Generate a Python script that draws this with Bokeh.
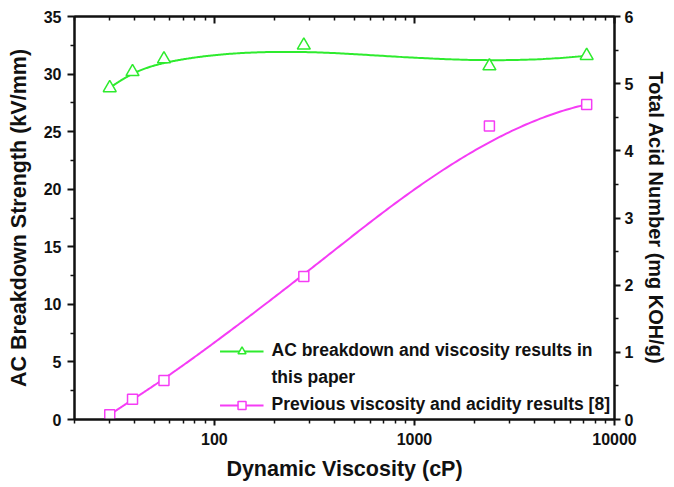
import numpy as np
from bokeh.plotting import figure
from bokeh.models import (LinearAxis, LogAxis, Range1d, FixedTicker,
                          NumeralTickFormatter, Legend, LegendItem)
from bokeh.embed import file_html
from bokeh.resources import INLINE

# ---- data ----
viscosity = [30, 39, 56, 280, 2370, 7260]            # cP
breakdown = [28.8, 30.2, 31.3, 32.5, 30.7, 31.6]     # kV/mm (left axis)
acid_number = [0.07, 0.30, 0.58, 2.13, 4.37, 4.69]   # mg KOH/g (right axis)

x_major = [100, 1000, 10000]
x_minor = [20, 30, 40, 50, 60, 70, 80, 90,
           200, 300, 400, 500, 600, 700, 800, 900,
           2000, 3000, 4000, 5000, 6000, 7000, 8000, 9000]
y_left_major = [0, 5, 10, 15, 20, 25, 30, 35]
y_left_minor = [2.5, 7.5, 12.5, 17.5, 22.5, 27.5, 32.5]
y_right_major = [0, 1, 2, 3, 4, 5, 6]
y_right_minor = [0.5, 1.5, 2.5, 3.5, 4.5, 5.5]

GREEN = "#2EEB2E"
MAGENTA = "#F53CF5"
FONT = "Liberation Sans"


def bspline(xs, ys, n=300, k=3):
    """Clamped cubic B-spline through control points (log-x space), as Origin draws."""
    P = np.column_stack([np.log10(xs), ys]).astype(float)
    m = len(P)
    inner = np.linspace(0, 1, m - k + 1)[1:-1]
    knots = np.concatenate([np.zeros(k + 1), inner, np.ones(k + 1)])
    ts = np.linspace(0, 1, n)
    out = []
    for t in ts:
        N = np.zeros(len(knots) - 1)
        for i in range(len(knots) - 1):
            if knots[i] <= t < knots[i + 1]:
                N[i] = 1.0
        if t >= 1.0:
            N[m - 1] = 1.0
        for d in range(1, k + 1):
            Nn = np.zeros(len(knots) - 1 - d)
            for i in range(len(Nn)):
                a = 0.0
                if knots[i + d] != knots[i]:
                    a = (t - knots[i]) / (knots[i + d] - knots[i]) * N[i]
                b = 0.0
                if knots[i + d + 1] != knots[i + 1]:
                    b = (knots[i + d + 1] - t) / (knots[i + d + 1] - knots[i + 1]) * N[i + 1]
                Nn[i] = a + b
            N = Nn
        out.append(N[:m] @ P)
    out = np.array(out)
    return 10 ** out[:, 0], out[:, 1]


gx, gy = bspline(viscosity, breakdown)
mx, my = bspline(viscosity, acid_number)

p = figure(width=670, height=483, x_axis_type="log",
           x_range=Range1d(20, 10000), y_range=Range1d(0, 35),
           output_backend="svg", toolbar_location=None,
           min_border_left=74, min_border_right=53,
           min_border_top=16, min_border_bottom=64)
p.extra_y_ranges = {"tan": Range1d(0, 6)}
p.xgrid.visible = False
p.ygrid.visible = False
p.outline_line_color = "#111111"
p.outline_line_width = 2
p.background_fill_color = "white"
p.border_fill_color = "white"


def style_axis(ax, label_size="16px"):
    ax.axis_line_color = "#111111"
    ax.axis_line_width = 2
    ax.major_tick_line_color = "#111111"
    ax.minor_tick_line_color = "#111111"
    ax.major_tick_line_width = 2
    ax.minor_tick_line_width = 1.5
    ax.major_tick_out = 7
    ax.major_tick_in = 0
    ax.minor_tick_out = 4
    ax.minor_tick_in = 0
    ax.major_label_text_font = FONT
    ax.major_label_text_font_style = "bold"
    ax.major_label_text_font_size = label_size
    ax.major_label_text_color = "#111111"
    ax.axis_label_text_font = FONT
    ax.axis_label_text_font_style = "bold"
    ax.axis_label_text_font_size = "21px"
    ax.axis_label_text_color = "#111111"


# bottom axis
xa = p.xaxis[0]
xa.ticker = FixedTicker(ticks=x_major, minor_ticks=x_minor)
xa.formatter = NumeralTickFormatter(format="0")
xa.axis_label = "Dynamic Viscosity (cP)"
style_axis(xa)
xa.axis_label_text_font_size = "21.5px"
xa.major_tick_out = 6
xa.major_label_standoff = 7
xa.axis_label_standoff = 9

# left axis
ya = p.yaxis[0]
ya.ticker = FixedTicker(ticks=y_left_major, minor_ticks=y_left_minor)
ya.axis_label = "AC Breakdown Strength (kV/mm)"
style_axis(ya)
ya.axis_label_text_font_size = "21.5px"
ya.major_label_standoff = 6
ya.axis_label_standoff = 10

# right axis
ra = LinearAxis(y_range_name="tan",
                ticker=FixedTicker(ticks=y_right_major, minor_ticks=y_right_minor),
                axis_label="Total Acid Number (mg KOH/g)")
style_axis(ra)
ra.axis_label_text_font_size = "20px"
ra.major_tick_out = 6
ra.major_label_standoff = 4
ra.axis_label_standoff = 9
p.add_layout(ra, "right")

# top axis (ticks inward, no labels)
ta = LogAxis(ticker=FixedTicker(ticks=x_major, minor_ticks=x_minor))
style_axis(ta)
ta.major_tick_out = 0
ta.minor_tick_out = 0
ta.major_tick_in = 7
ta.minor_tick_in = 4
ta.major_label_text_font_size = "1px"
ta.major_label_text_color = None
ta.major_label_standoff = 0
p.add_layout(ta, "above")

# series
gl = p.line(gx, gy, line_color=GREEN, line_width=2)
gm = p.scatter(viscosity, breakdown, marker="triangle", size=13,
               line_color=GREEN, line_width=1.5, fill_color="white")
ml = p.line(mx, my, line_color=MAGENTA, line_width=2, y_range_name="tan")
mm = p.scatter(viscosity, acid_number, marker="square", size=10,
               line_color=MAGENTA, line_width=1.5, fill_color="white",
               y_range_name="tan")
# invisible renderer used for the wrapped second line of the first legend label
blank = p.line([], [], line_alpha=0)

legend = Legend(items=[
    LegendItem(label="AC breakdown and viscosity results in", renderers=[gl, gm]),
    LegendItem(label="this paper", renderers=[blank]),
    LegendItem(label="Previous viscosity and acidity results [8]", renderers=[ml, mm]),
], location="bottom_right")
legend.border_line_alpha = 0
legend.background_fill_alpha = 0
legend.label_text_font = FONT
legend.label_text_font_style = "bold"
legend.label_text_font_size = "17.5px"
legend.label_text_color = "#111111"
legend.glyph_width = 44
legend.glyph_height = 20
legend.label_height = 20
legend.label_standoff = 8
legend.padding = 0
legend.spacing = 6
legend.margin = 4
p.add_layout(legend)

open("out.html", "w").write(file_html(p, INLINE))
